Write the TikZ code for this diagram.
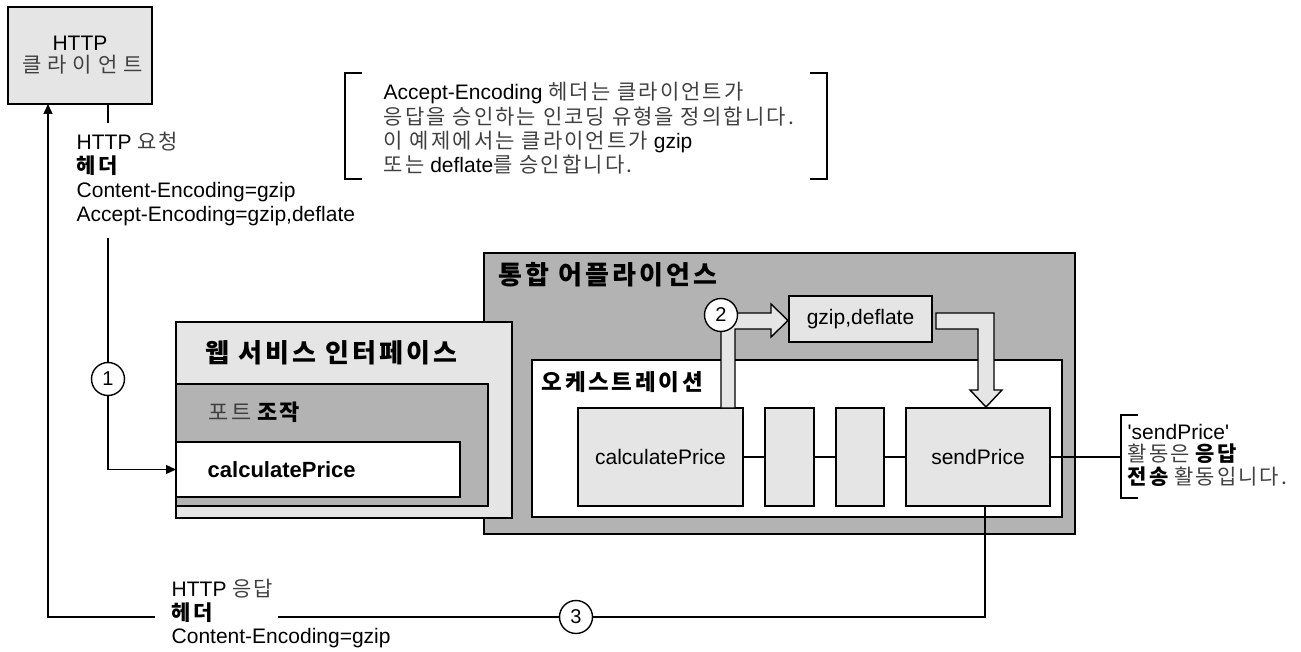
\documentclass[tikz,border=0pt]{standalone}
\usepackage{fontspec}
\setmainfont{Liberation Sans}[Ligatures=TeXOff]
\newfontfamily\krfont{Noto Sans CJK KR}[LetterSpace=10]
\newfontfamily\krwide{Noto Sans CJK KR}[LetterSpace=28]
\newfontfamily\krtitle{Noto Sans CJK KR}[LetterSpace=12]
\usetikzlibrary{arrows.meta,calc,shadows}
\definecolor{lg}{HTML}{E5E5E5}
\definecolor{mg}{HTML}{B3B3B3}
\definecolor{kgray}{HTML}{404040}
\newcommand\ko[1]{{\krfont\color{kgray}#1}}
\newcommand\kob[1]{{\krfont\bfseries #1}}
\newcommand\kot[1]{{\krtitle\bfseries #1}}
\newcommand\nfont{\fontsize{21}{24}\selectfont}
\tikzset{
  bx/.style={draw, line width=1.4pt, inner sep=0pt, outer sep=0pt,
    drop shadow={shadow xshift=1.3pt, shadow yshift=-1.3pt, fill=black!60, opacity=1}},
  txt/.style={font=\nfont, inner sep=0pt, align=left},
  ttl/.style={font=\fontsize{26}{30}\selectfont\bfseries, inner sep=0pt, anchor=west},
  num/.style={circle, draw, fill=white, line width=1.4pt, minimum size=33pt, inner sep=0pt, font=\fontsize{20}{20}\selectfont},
  fat/.style={draw, fill=lg, line width=1.4pt, line join=miter},
  tip/.style={-{Triangle[length=10pt,width=9pt]}},
}
\begin{document}
\begin{tikzpicture}[x=1pt,y=-1pt,line width=1.4pt]
\useasboundingbox (0,0) rectangle (1301,652);

% HTTP client
\node[bx, fill=lg, minimum width=144pt, minimum height=97pt, align=center,
      font=\fontsize{21}{22}\selectfont] (client) at (80,55.5) {HTTP\\{\krwide\color{kgray}클라이언트\kern-5pt}};

% note with brackets
\draw (362,73) -- (345,73) -- (345,179) -- (362,179);
\draw (810,73) -- (827,73) -- (827,179) -- (810,179);
\node[txt, anchor=west, font=\fontsize{21}{24.3}\selectfont] (note) at (383,128.5)
  {Accept-Encoding \ko{헤더는 클라이언트가}\\
   \ko{응답을 승인하는 인코딩 유형을 정의합니다.}\\
   \ko{이 예제에서는 클라이언트가} gzip\\
   \ko{또는} deflate\ko{를 승인합니다.}};

% request text
\node[txt, anchor=west] (req) at (76,179)
  {HTTP \ko{요청}\\\kob{헤더}\\Content-Encoding=gzip\\Accept-Encoding=gzip,deflate};

% integration appliance
\node[bx, fill=mg, minimum width=591pt, minimum height=281pt] (integ) at (779.5,393.5) {};
\node[ttl] (integT) at (498,275) {\kot{통합 어플라이언스}};

% orchestration
\node[bx, fill=white, minimum width=530pt, minimum height=157pt] (orch) at (797,438.5) {};
\node[ttl, font=\fontsize{22.5}{28}\selectfont\bfseries] (orchT) at (541,382) {\kot{오케스트레이션}};

\node[bx, fill=lg, minimum width=165pt, minimum height=98pt, font=\nfont] (calcB) at (660.5,457) {calculatePrice};
\node[bx, fill=lg, minimum width=49pt, minimum height=98pt] (s1) at (789.5,457) {};
\node[bx, fill=lg, minimum width=48pt, minimum height=98pt] (s2) at (860,457) {};
\node[bx, fill=lg, minimum width=144pt, minimum height=98pt, font=\nfont] (sendP) at (978,457) {sendPrice};
\node[bx, fill=lg, minimum width=143pt, minimum height=46pt, font=\nfont] (gz) at (860.5,319) {gzip,deflate};

\draw (calcB.east) -- (s1.west);
\draw (s1.east) -- (s2.west);
\draw (s2.east) -- (sendP.west);

% fat arrows
\draw[fat] (721,408) -- (721,313) -- (771,313) -- (771,304) -- (788,320.5)
   -- (771,337) -- (771,329) -- (735,329) -- (735,408) -- cycle;
\draw[fat] (936,313) -- (994,313) -- (994,390) -- (1002,390) -- (986,407)
   -- (970,390) -- (978,390) -- (978,329) -- (936,329) -- cycle;
\node[num] (n2) at (721,315) {2};

% web service interface
\node[bx, fill=lg, minimum width=336pt, minimum height=196pt] (web) at (344,420) {};
\node[ttl] (webT) at (205,353) {\kot{웹 서비스 인터페이스}};
\node[bx, fill=mg, minimum width=312pt, minimum height=122pt] (port) at (332,445) {};
\node[ttl, font=\fontsize{22}{26}\selectfont] (portT) at (208,412) {\ko{포트} \kob{조작}};
\node[bx, fill=white, minimum width=284pt, minimum height=55pt] (calcA) at (318,469.5) {};
\node[ttl, font=\fontsize{22}{26}\selectfont\bfseries] (calcAT) at (207,470) {calculatePrice};

% request connector with step 1
\coordinate (r1) at (108,123);
\coordinate (r2) at (108,238);
\draw (client.south -| r1) -- (r1);
\node[num] (n1) at (108,379) {1};
\draw (r2) -- (n1);
\draw[tip] (n1) -- (n1 |- calcA) -- (calcA.west);

% side note
\coordinate (sb) at (1121,457);
\draw (sendP.east) -- (sb);
\draw (1138,415) -- (1121,415) -- (1121,498) -- (1138,498);
\node[txt, anchor=west, font=\fontsize{21}{22.5}\selectfont] (side) at (1127,455)
  {'sendPrice'\\\ko{활동은} \kob{응답}\\\kob{전송} \ko{활동입니다.}};

% response path with step 3
\node[num] (n3) at (576,617) {3};
\coordinate (b1) at (985,617);
\coordinate (b2) at (278,617);
\coordinate (b3) at (155,617);
\coordinate (b4) at (48,617);
\draw (sendP.south -| b1) -- (b1) -- (n3);
\draw (n3) -- (b2);
\draw[tip] (b3) -- (b4) -- (client.south -| b4);
\node[txt, anchor=west, font=\fontsize{21}{23.5}\selectfont] (resp) at (171,613.5)
  {HTTP \ko{응답}\\\kob{헤더}\\Content-Encoding=gzip};
\end{tikzpicture}
\end{document}
